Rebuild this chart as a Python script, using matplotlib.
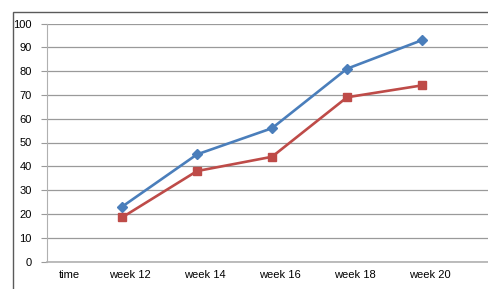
import matplotlib.pyplot as plt
import matplotlib.transforms as mtransforms
from matplotlib.patches import Rectangle

categories = ["time", "week 12", "week 14", "week 16", "week 18", "week 20"]
series_a = [None, 23, 45, 56, 81, 93]
series_b = [None, 18.5, 38, 44, 69, 74]
y_ticks = list(range(0, 101, 10))

plt.rcParams['font.family'] = ['Liberation Sans', 'DejaVu Sans']

W, H = 488, 289
fig = plt.figure(figsize=(W / 100, H / 100), dpi=100)

# outer chart frame (cut off on the right and bottom)
fig.patches.append(Rectangle((13 / W, -0.1), 1.2, 1.1 - 12 / H,
                             transform=fig.transFigure, fill=False,
                             edgecolor='#5a5a5a', linewidth=1.0))

ax = fig.add_axes([47 / W, (H - 261.5) / H, 1.0 - 47 / W, 238 / H])

x = list(range(len(categories)))
xa = [i for i, v in zip(x, series_a) if v is not None]
ya = [v for v in series_a if v is not None]
xb = [i for i, v in zip(x, series_b) if v is not None]
yb = [v for v in series_b if v is not None]

ax.plot(xa, ya, color='#4a7ebb', linewidth=1.9, marker='D', markersize=5.5,
        zorder=3)
ax.plot(xb, yb, color='#be4b48', linewidth=1.9, marker='s', markersize=6,
        zorder=3)

ax.set_xlim(0, 5.88)
ax.set_ylim(0, 100)
ax.set_yticks(y_ticks)
ax.set_xticks(x)
ax.set_xticklabels(categories)
ax.grid(axis='y', color='#9a9a9a', linewidth=0.9)
ax.set_axisbelow(True)

for s in ['top', 'right']:
    ax.spines[s].set_visible(False)
ax.spines['left'].set_color('#b0b0b0')
ax.spines['bottom'].set_color('#b0b0b0')
ax.spines['bottom'].set_linewidth(1.2)

ax.tick_params(axis='y', length=4, color='#9a9a9a', labelsize=8, pad=7)
ax.tick_params(axis='x', length=0, labelsize=8, pad=6)

offset = mtransforms.ScaledTranslation(8 / 100, 0, fig.dpi_scale_trans)
for i, lab in enumerate(ax.get_xticklabels()):
    extra = mtransforms.ScaledTranslation(14 / 100, 0, fig.dpi_scale_trans) if i == 0 else mtransforms.Affine2D()
    lab.set_transform(lab.get_transform() + offset + extra)

fig.savefig('out.png', dpi=100)
